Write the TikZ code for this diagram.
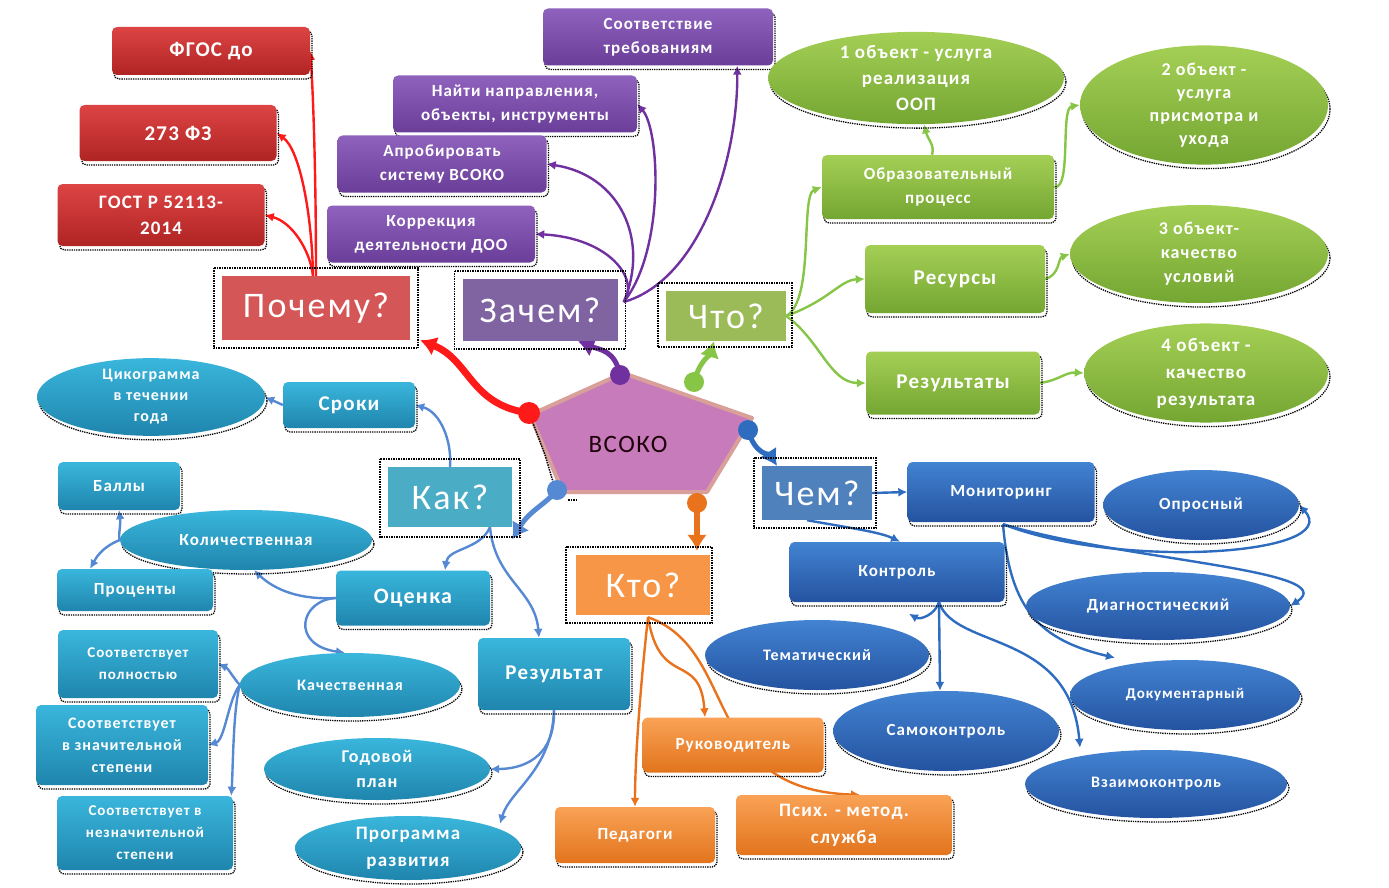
\documentclass[tikz,border=0pt]{standalone}
\usepackage{fontspec}
\setmainfont{Carlito}
\newfontfamily\lsfont[LetterSpace=6]{Carlito}
\usetikzlibrary{shapes.geometric,arrows.meta,shadows,calc}
\pgfdeclarelayer{bg}
\pgfsetlayers{bg,main}
\definecolor{redT}{HTML}{DD4444}
\definecolor{redB}{HTML}{B02424}
\definecolor{redQ}{HTML}{D45656}
\definecolor{redL}{HTML}{FF1A1A}
\definecolor{purT}{HTML}{8E62BD}
\definecolor{purB}{HTML}{6A3E98}
\definecolor{purQ}{HTML}{8064A2}
\definecolor{purL}{HTML}{7030A0}
\definecolor{grnT}{HTML}{A4CF55}
\definecolor{grnB}{HTML}{74A632}
\definecolor{grnQ}{HTML}{9BBB59}
\definecolor{grnL}{HTML}{86C545}
\definecolor{cyT}{HTML}{3AB6DC}
\definecolor{cyB}{HTML}{1F85AD}
\definecolor{cyQ}{HTML}{4BACC6}
\definecolor{cyL}{HTML}{5689D3}
\definecolor{orT}{HTML}{F9A256}
\definecolor{orB}{HTML}{E2741C}
\definecolor{orQ}{HTML}{F79646}
\definecolor{orL}{HTML}{E8731C}
\definecolor{bluT}{HTML}{4283D2}
\definecolor{bluB}{HTML}{2453A0}
\definecolor{bluQ}{HTML}{4F81BD}
\definecolor{bluL}{HTML}{2E6CC0}
\definecolor{pentF}{HTML}{C77BBA}
\definecolor{pentD}{HTML}{D9A09A}
\tikzset{
  sel/.style={drop shadow={shadow xshift=2pt, shadow yshift=-4pt, opacity=1, fill=none, draw=black, densely dotted, line width=1.3pt}},
  base/.style={align=center, text=white, inner sep=1pt, sel,
     font=\lsfont\bfseries\fontsize{17}{24}\selectfont},
  rbox/.style={base, rectangle, rounded corners=5pt},
  ell/.style={base, ellipse, inner sep=0pt},
  qbox/.style={rectangle, text=white, inner sep=0pt, font=\lsfont\fontsize{36}{40}\selectfont},
  redbox/.style={rbox, top color=redT, bottom color=redB},
  purbox/.style={rbox, top color=purT, bottom color=purB},
  grnbox/.style={rbox, top color=grnT, bottom color=grnB},
  grnell/.style={ell, top color=grnT, bottom color=grnB},
  cybox/.style={rbox, top color=cyT, bottom color=cyB},
  cyell/.style={ell, top color=cyT, bottom color=cyB},
  orbox/.style={rbox, top color=orT, bottom color=orB},
  blubox/.style={rbox, top color=bluT, bottom color=bluB},
  bluell/.style={ell, top color=bluT, bottom color=bluB},
  con/.style={-{Latex[length=9pt,width=9pt]}, line width=2.4pt},
  thickcon/.style={-{Latex[length=16pt,width=20pt]}, line width=6pt},
  framed/.style={densely dotted, line width=1.5pt, black},
}
\begin{document}
\begin{tikzpicture}[x=1pt,y=-1pt]
\useasboundingbox (0,0) rectangle (1389,888);

% ---------------- central pentagon
\coordinate (p1) at (623,373);
\coordinate (p2) at (752,418);
\coordinate (p3) at (707,492);
\coordinate (p4) at (563,492);
\coordinate (p5) at (530,415);
\draw[fill=pentF, draw=pentD, line width=4pt, line join=round] (p1)--(p2)--(p3)--(p4)--(p5)--cycle;
\draw[framed] (p5) -- ++(15,40) -- ++(12,40);
\draw[framed] ($(p4)+(5,8)$) -- ($(p3)+(-130,8)$);
\node[font=\lsfont\fontsize{25}{28}\selectfont, text=black!85!purple] (vsoko) at (628,444) {ВСОКО};

% dots
\coordinate (dR) at (529,413);
\coordinate (dP) at (620,375);
\coordinate (dG) at (694,382);
\coordinate (dB) at (748,430);
\coordinate (dC) at (557,490);
\coordinate (dO) at (697,503);

% ---------------- red group
\node[redbox, minimum width=198pt, minimum height=48pt, font=\lsfont\bfseries\fontsize{21}{24}\selectfont] (fgos) at (211,51) {ФГОС до};
\node[redbox, minimum width=197pt, minimum height=56pt, font=\lsfont\bfseries\fontsize{21}{24}\selectfont] (fz) at (178,133) {273 ФЗ};
\node[redbox, minimum width=207pt, minimum height=62pt, font=\lsfont\bfseries\fontsize{19}{26}\selectfont] (gost) at (161,215) {ГОСТ Р 52113-\\2014};
\node[qbox, fill=redQ, minimum width=188pt, minimum height=64pt] (pochemu) at (316,308) {Почему?};
\draw[framed] ([shift={(-8,-8)}]pochemu.north west) rectangle ([shift={(8,8)}]pochemu.south east);

% ---------------- purple group
\node[purbox, minimum width=230pt, minimum height=57pt] (soot) at (658,37) {Соответствие\\требованиям};
\node[purbox, minimum width=244pt, minimum height=57pt] (naiti) at (515,104) {Найти направления,\\объекты, инструменты};
\node[purbox, minimum width=209pt, minimum height=57pt] (aprob) at (442,164) {Апробировать\\систему ВСОКО};
\node[purbox, minimum width=208pt, minimum height=57pt] (korr) at (431,234) {Коррекция\\деятельности ДОО};
\node[qbox, fill=purQ, minimum width=155pt, minimum height=62pt] (zachem) at (540,310) {Зачем?};
\draw[framed] ([shift={(-8,-8)}]zachem.north west) rectangle ([shift={(8,8)}]zachem.south east);

% ---------------- green group
\node[grnell, minimum width=296pt, minimum height=88pt, font=\lsfont\bfseries\fontsize{19}{26}\selectfont] (obj1) at (916,78) {1 объект - услуга\\реализация\\ООП};
\node[grnell, minimum width=248pt, minimum height=100pt, font=\lsfont\bfseries\fontsize{18}{23}\selectfont] (obj2) at (1204,105) {2 объект -\\услуга\\присмотра и\\ухода};
\node[grnbox, minimum width=232pt, minimum height=64pt] (obraz) at (938,187) {Образовательный\\процесс};
\node[grnbox, minimum width=180pt, minimum height=68pt, font=\lsfont\bfseries\fontsize{21}{24}\selectfont] (resursy) at (955,279) {Ресурсы};
\node[grnell, minimum width=258pt, minimum height=98pt, font=\lsfont\bfseries\fontsize{18}{24}\selectfont] (obj3) at (1199,254) {3 объект-\\качество\\условий};
\node[grnbox, minimum width=174pt, minimum height=63pt, font=\lsfont\bfseries\fontsize{21}{24}\selectfont] (rezty) at (953,383) {Результаты};
\node[grnell, minimum width=244pt, minimum height=96pt, font=\lsfont\bfseries\fontsize{19}{27}\selectfont] (obj4) at (1206,373) {4 объект -\\качество\\результата};
\node[qbox, fill=grnQ, minimum width=120pt, minimum height=50pt] (chto) at (726,316) {Что?};
\draw[framed] ([shift={(-8,-8)}]chto.north west) rectangle ([shift={(6,6)}]chto.south east);

% ---------------- cyan group
\node[cyell, minimum width=228pt, minimum height=76pt, font=\lsfont\bfseries\fontsize{16}{21}\selectfont] (cikl) at (151,397) {Цикограмма\\в течении\\года};
\node[cybox, minimum width=132pt, minimum height=46pt, font=\lsfont\bfseries\fontsize{21}{24}\selectfont] (sroki) at (349,405) {Сроки};
\node[qbox, fill=cyQ, minimum width=124pt, minimum height=60pt] (kak) at (450,497) {Как?};
\draw[framed] ([shift={(-8,-8)}]kak.north west) rectangle ([shift={(8,10)}]kak.south east);
\node[cybox, minimum width=122pt, minimum height=48pt] (bally) at (119,486) {Баллы};
\node[cyell, minimum width=252pt, minimum height=60pt] (kolich) at (246,540) {Количественная};
\node[cybox, minimum width=156pt, minimum height=42pt] (proc) at (135,590) {Проценты};
\node[cybox, minimum width=154pt, minimum height=55pt, font=\lsfont\bfseries\fontsize{22}{24}\selectfont] (otsenka) at (413,598) {Оценка};
\node[cybox, minimum width=160pt, minimum height=68pt, font=\lsfont\bfseries\fontsize{15}{22}\selectfont] (s1) at (138,664) {Соответствует\\полностью};
\node[cyell, minimum width=220pt, minimum height=64pt, font=\lsfont\bfseries\fontsize{16}{22}\selectfont] (kachest) at (350,685) {Качественная};
\node[cybox, minimum width=152pt, minimum height=72pt, font=\lsfont\bfseries\fontsize{21}{24}\selectfont] (rezult) at (554,674) {Результат};
\node[cybox, minimum width=172pt, minimum height=80pt, font=\lsfont\bfseries\fontsize{16}{22}\selectfont] (s2) at (122,745) {Соответствует\\в значительной\\степени};
\node[cyell, minimum width=226pt, minimum height=62pt, font=\lsfont\bfseries\fontsize{18}{25}\selectfont] (godplan) at (377,769) {Годовой\\план};
\node[cybox, minimum width=176pt, minimum height=74pt, font=\lsfont\bfseries\fontsize{15}{22}\selectfont] (s3) at (145,833) {Соответствует в\\незначительной\\степени};
\node[cyell, minimum width=226pt, minimum height=64pt, font=\lsfont\bfseries\fontsize{19}{27}\selectfont] (progr) at (408,848) {Программа\\развития};

% ---------------- orange group
\node[qbox, fill=orQ, minimum width=134pt, minimum height=60pt] (kto) at (643,585) {Кто?};
\draw[framed] ([shift={(-10,-8)}]kto.north west) rectangle ([shift={(2,8)}]kto.south east);
\node[orbox, minimum width=181pt, minimum height=55pt] (rukov) at (733,745) {Руководитель};
\node[orbox, minimum width=160pt, minimum height=56pt] (pedag) at (635,835) {Педагоги};
\node[orbox, minimum width=216pt, minimum height=60pt, font=\lsfont\bfseries\fontsize{19}{27}\selectfont] (psych) at (844,825) {Псих. - метод.\\служба};

% ---------------- blue group
\node[qbox, fill=bluQ, minimum width=110pt, minimum height=54pt] (chem) at (817,493) {Чем?};
\draw[framed] ([shift={(-8,-8)}]chem.north west) rectangle ([shift={(4,8)}]chem.south east);
\node[blubox, minimum width=187pt, minimum height=60pt] (monit) at (1001,492) {Мониторинг};
\node[bluell, minimum width=196pt, minimum height=70pt] (opros) at (1201,505) {Опросный};
\node[blubox, minimum width=215pt, minimum height=60pt] (kontr) at (897,572) {Контроль};
\node[bluell, minimum width=264pt, minimum height=68pt] (diag) at (1158,606) {Диагностический};
\node[bluell, minimum width=224pt, minimum height=70pt, font=\lsfont\bfseries\fontsize{16}{22}\selectfont] (temat) at (817,655) {Тематический};
\node[bluell, minimum width=226pt, minimum height=80pt] (samok) at (946,731) {Самоконтроль};
\node[bluell, minimum width=230pt, minimum height=70pt, font=\lsfont\bfseries\fontsize{15}{22}\selectfont] (docum) at (1185,695) {Документарный};
\node[bluell, minimum width=262pt, minimum height=68pt, font=\lsfont\bfseries\fontsize{16}{22}\selectfont] (vzaim) at (1156,784) {Взаимоконтроль};

% ================= connectors (behind)
\begin{pgfonlayer}{bg}
% red
\draw[con, redL] (pochemu.north) .. controls (316,170) and (313,90) .. (fgos.east);
\draw[con, redL] ([xshift=-3pt]pochemu.north) .. controls (312,215) and (300,150) .. (fz.east);
\draw[con, redL] ([xshift=-3pt]pochemu.north) .. controls (310,250) and (292,222) .. (gost.east);
% purple
\coordinate (zR) at ($(zachem.east)+(6,-8)$);
\draw[con, purL] (zR) .. controls (700,280) and (738,160) .. ([xshift=-36pt]soot.south east);
\draw[con, purL] (zR) .. controls (665,250) and (660,130) .. (naiti.east);
\draw[con, purL] (zR) .. controls (650,240) and (620,175) .. (aprob.east);
\draw[con, purL] (zR) .. controls (640,280) and (610,238) .. (korr.east);
% green
\draw[con, grnL] (chto.east) .. controls (815,300) and (800,195) .. (obraz.west);
\draw[con, grnL] (chto.east) .. controls (830,300) and (840,280) .. (resursy.west);
\draw[con, grnL] (chto.east) .. controls (820,340) and (830,383) .. (rezty.west);
\draw[con, grnL] ([xshift=-6pt]obraz.north) .. controls (935,145) and (928,140) .. ([xshift=8pt]obj1.south);
\draw[con, grnL] (obraz.east) .. controls (1072,190) and (1060,108) .. (obj2.west);
\draw[con, grnL] (resursy.east) .. controls (1060,275) and (1058,258) .. (obj3.west);
\draw[con, grnL] (rezty.east) .. controls (1060,380) and (1065,372) .. (obj4.west);
% cyan
\draw[con, cyL] (kak.north) .. controls (452,440) and (440,412) .. (sroki.east);
\draw[con, cyL] (sroki.west) -- (cikl.east);
\coordinate (kS) at ($(kak.south)+(40,0)$);
\draw[con, cyL] (kS) .. controls (480,550) and (448,548) .. ([xshift=32pt]otsenka.north);
\draw[con, cyL] (kS) .. controls (495,580) and (535,590) .. ([xshift=-15pt]rezult.north);
\draw[con, cyL] (otsenka.west) .. controls (300,600) and (275,590) .. ([xshift=8pt]kolich.south);
\draw[con, cyL] (otsenka.west) .. controls (300,600) and (290,645) .. ([xshift=-5pt]kachest.north);
\draw[con, cyL] (kolich.west) .. controls (118,535) and (121,525) .. (bally.south);
\draw[con, cyL] (kolich.west) .. controls (100,548) and (95,560) .. ([xshift=-45pt]proc.north);
\draw[con, cyL] (kachest.west) .. controls (232,676) and (228,668) .. (s1.east);
\draw[con, cyL] (kachest.west) .. controls (228,700) and (225,740) .. (s2.east);
\draw[con, cyL] (kachest.west) .. controls (233,710) and (233,770) .. ([xshift=-2pt]s3.north east);
\draw[con, cyL] (rezult.south) .. controls (555,760) and (520,769) .. (godplan.east);
\draw[con, cyL] (rezult.south) .. controls (552,770) and (510,790) .. ([xshift=92pt,yshift=-8pt]progr.north);
% orange
\coordinate (kB) at ($(kto.south)+(5,2)$);
\draw[con, orL] (kB) .. controls (660,690) and (700,650) .. ([xshift=-28pt]rukov.north);
\draw[con, orL] (kB) .. controls (640,690) and (635,760) .. (pedag.north);
\draw[con, orL] (kB) .. controls (740,650) and (700,790) .. ([xshift=16pt]psych.north);
% blue
\draw[con, bluL] (chem.east) -- (monit.west);
\draw[con, bluL] ([xshift=-10pt]chem.south) .. controls (850,528) and (880,532) .. ([xshift=3pt]kontr.north);
\coordinate (mS) at ($(monit.south)+(2,2)$);
\draw[con, bluL] (mS) .. controls (1120,570) and (1345,555) .. (opros.east);
\draw[con, bluL] (mS) .. controls (1120,560) and (1345,570) .. (diag.east);
\draw[con, bluL] (mS) .. controls (1010,610) and (1040,640) .. ([xshift=-70pt,yshift=2pt]docum.north);
\coordinate (kS2) at ($(kontr.south)+(42,0)$);
\draw[con, bluL] (kS2) .. controls (935,615) and (920,620) .. ([xshift=92pt,yshift=6pt]temat.north);
\draw[con, bluL] (kS2) -- ([xshift=-6pt]samok.north);
\draw[con, bluL] (kS2) .. controls (955,650) and (1070,630) .. ([xshift=-76pt,yshift=2pt]vzaim.north);
% thick ones from the pentagon
\draw[thickcon, redL, line width=7pt] (dR) .. controls (470,405) and (470,360) .. ([xshift=10pt]pochemu.south east);
\draw[thickcon, purL, line width=5pt] (dP) .. controls (615,350) and (600,350) .. ([xshift=38pt]zachem.south);
\draw[thickcon, grnL, line width=5pt] (dG) .. controls (700,360) and (710,355) .. ([xshift=-12pt]chto.south);
\draw[thickcon, bluL, line width=5pt] (dB) .. controls (755,455) and (770,455) .. ([xshift=-40pt]chem.north);
\draw[thickcon, cyL, line width=5pt] (dC) .. controls (545,505) and (530,510) .. ([yshift=-12pt]kak.south east);
\draw[thickcon, orL, line width=6pt] (dO) -- ($(dO |- kto.north)+(0,-4)$);
\end{pgfonlayer}
% dots on top
\fill[redL] (dR) circle (11pt);
\fill[purL] (dP) circle (10pt);
\fill[grnL] (dG) circle (10pt);
\fill[bluL] (dB) circle (10pt);
\fill[cyL] (dC) circle (10pt);
\fill[orL] (dO) circle (10pt);
\end{tikzpicture}
\end{document}
